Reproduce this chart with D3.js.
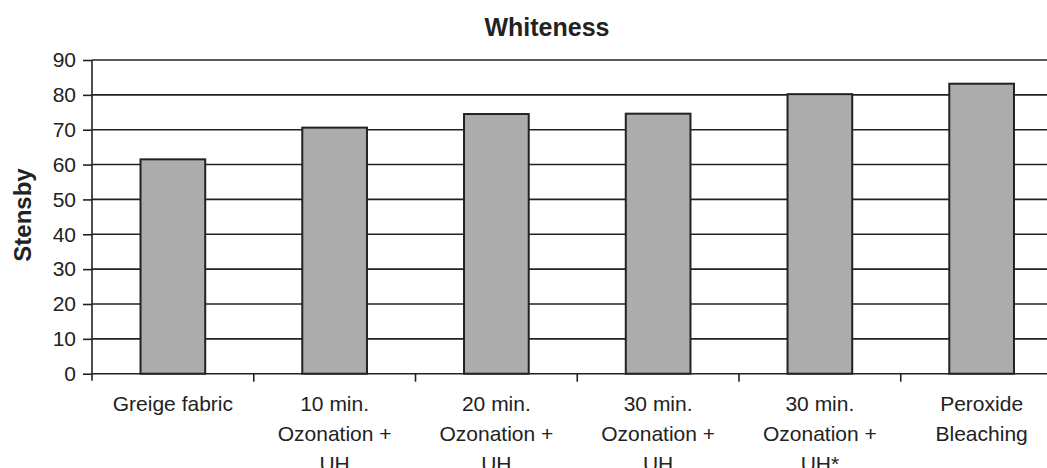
<!DOCTYPE html>
<html lang="en">
<head>
    <meta charset="UTF-8">
    <title>Whiteness</title>
    <script src="https://cdnjs.cloudflare.com/ajax/libs/d3/7.8.5/d3.min.js"></script>
    <style>
        * { margin: 0; padding: 0; box-sizing: border-box; }
        body {
            font-family: 'Liberation Sans', Arial, sans-serif;
            background-color: #fff;
            overflow: hidden;
        }
        #chart { width: 1047px; height: 468px; }
        text { fill: #222; }
    </style>
</head>
<body>
    <div id="chart"></div>

    <script>
        // Data
        const categories = [
            ['Greige fabric'],
            ['10 min.', 'Ozonation +', 'UH'],
            ['20 min.', 'Ozonation +', 'UH'],
            ['30 min.', 'Ozonation +', 'UH'],
            ['30 min.', 'Ozonation +', 'UH*'],
            ['Peroxide', 'Bleaching']
        ];
        const whiteness = [61.5, 70.6, 74.5, 74.6, 80.2, 83.2];
        const yTicks = [0, 10, 20, 30, 40, 50, 60, 70, 80, 90];

        const width = 1047;
        const height = 468;
        const margin = { top: 60, left: 92, bottom: 94 };
        const plotRight = 1062.5;

        const svg = d3.select('#chart')
            .append('svg')
            .attr('width', width)
            .attr('height', height);

        const x = d3.scaleBand()
            .domain(d3.range(categories.length))
            .range([margin.left, plotRight])
            .paddingInner(0.6)
            .paddingOuter(0.3);

        const y = d3.scaleLinear()
            .domain([0, 90])
            .range([height - margin.bottom - 0.3, margin.top]);

        // Gridlines
        svg.append('g')
            .selectAll('line')
            .data(yTicks)
            .enter()
            .append('line')
            .attr('x1', margin.left)
            .attr('x2', plotRight)
            .attr('y1', d => y(d))
            .attr('y2', d => y(d))
            .attr('stroke', '#222')
            .attr('stroke-width', 1.6);

        // Bars
        svg.append('g')
            .selectAll('rect')
            .data(whiteness)
            .enter()
            .append('rect')
            .attr('x', (d, i) => x(i))
            .attr('y', d => y(d))
            .attr('width', x.bandwidth())
            .attr('height', d => y(0) - y(d))
            .attr('fill', '#acacac')
            .attr('stroke', '#222')
            .attr('stroke-width', 2);

        // Y axis
        const yAxis = svg.append('g')
            .attr('transform', `translate(${margin.left},0)`)
            .call(d3.axisLeft(y).tickValues(yTicks).tickSize(9).tickPadding(7));
        yAxis.select('.domain')
            .attr('d', `M0,${margin.top}V${y(0) + 7}`)
            .attr('stroke', '#222')
            .attr('stroke-width', 1.6);
        yAxis.selectAll('.tick line').attr('stroke', '#222').attr('stroke-width', 1.6);
        yAxis.selectAll('.tick text')
            .attr('font-family', "'Liberation Sans', Arial, sans-serif")
            .attr('font-size', 21)
            .attr('fill', '#222');

        // X axis ticks at band boundaries
        const boundaries = d3.range(categories.length).map(i => x(i) - x.step() * x.paddingOuter());
        svg.append('g')
            .selectAll('line')
            .data(boundaries.slice(1))
            .enter()
            .append('line')
            .attr('x1', d => d)
            .attr('x2', d => d)
            .attr('y1', y(0))
            .attr('y2', y(0) + 8)
            .attr('stroke', '#222')
            .attr('stroke-width', 1.6);

        // Category labels
        const catLabels = svg.append('g')
            .selectAll('text')
            .data(categories)
            .enter()
            .append('text')
            .attr('text-anchor', 'middle')
            .attr('font-size', 21)
            .attr('transform', (d, i) => `translate(${x(i) + x.bandwidth() / 2},${y(0) + 37})`);
        catLabels.selectAll('tspan')
            .data(d => d)
            .enter()
            .append('tspan')
            .attr('x', 0)
            .attr('y', (d, i) => i * 30)
            .text(d => d);

        // Title
        svg.append('text')
            .attr('x', 547)
            .attr('y', 36)
            .attr('text-anchor', 'middle')
            .attr('font-size', 25)
            .attr('font-weight', 'bold')
            .text('Whiteness');

        // Y axis label
        svg.append('text')
            .attr('transform', 'translate(31,215) rotate(-90)')
            .attr('text-anchor', 'middle')
            .attr('font-size', 24)
            .attr('font-weight', 'bold')
            .text('Stensby');
    </script>
</body>
</html>
